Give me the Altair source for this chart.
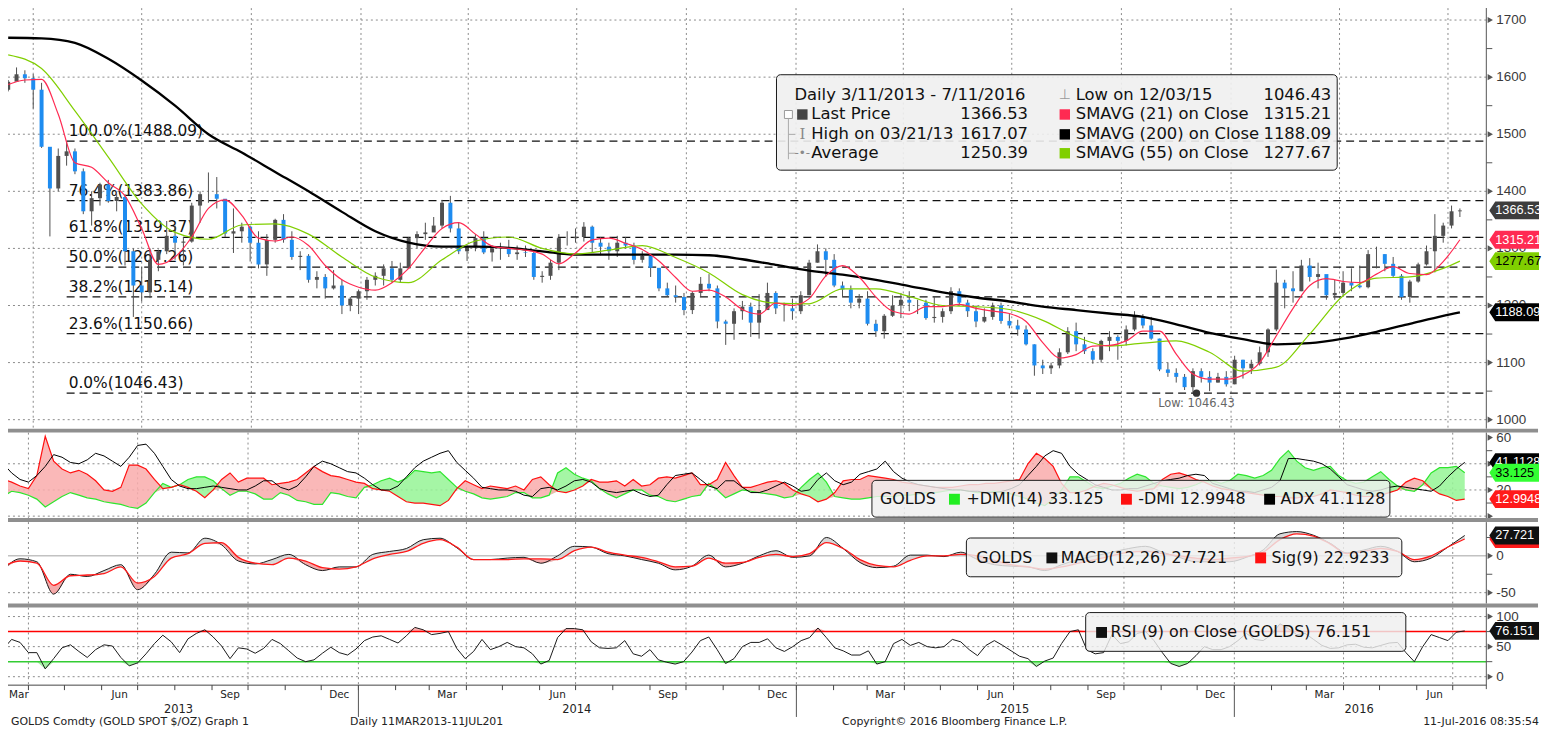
import altair as alt
import pandas as pd
import numpy as np

# ---------------- data ----------------
WEEK_START = "2013-03-11"      # weekly samples (Mondays)
N_WEEKS = 175

week_high = [1595,1617,1612,1605,1590,1425,1475,1488,1475,1440,
             1400,1415,1420,1395,1395,1300,1268,1300,1298,1348,
             1340,1320,1380,1400,1433,1425,1385,1370,1345,1340,
             1330,1325,1352,1360,1330,1295,1290,1260,1255,1262,
             1245,1215,1228,1250,1258,1272,1278,1275,1320,1330,
             1345,1355,1385,1392,1345,1305,1325,1330,1305,1310,
             1315,1305,1305,1295,1260,1280,1325,1330,1335,1346,
             1340,1320,1310,1322,1320,1310,1295,1290,1265,1240,
             1235,1222,1225,1250,1255,1235,1175,1195,1208,1205,
             1220,1240,1225,1205,1212,1225,1280,1307,1300,1290,
             1242,1235,1220,1225,1175,1185,1218,1222,1225,1210,
             1210,1215,1195,1232,1230,1210,1200,1195,1205,1205,
             1185,1175,1165,1132,1105,1100,1125,1162,1170,1145,
             1125,1140,1155,1148,1165,1190,1185,1180,1142,1100,
             1090,1080,1090,1090,1085,1082,1085,1112,1105,1105,
             1128,1160,1263,1245,1260,1280,1283,1275,1250,1245,
             1260,1265,1270,1297,1303,1290,1285,1255,1245,1275,
             1305,1360,1345,1375,1370]
week_low = [1575,1595,1590,1545,1476,1321,1400,1445,1430,1360,
            1340,1375,1380,1365,1270,1180,1207,1213,1260,1290,
            1280,1270,1310,1345,1380,1370,1320,1292,1310,1277,
            1265,1252,1310,1310,1280,1262,1240,1230,1212,1228,
            1185,1190,1185,1210,1235,1235,1240,1240,1270,1300,
            1315,1330,1335,1328,1290,1278,1295,1290,1277,1280,
            1285,1280,1285,1245,1240,1245,1262,1305,1310,1312,
            1292,1288,1280,1285,1300,1272,1275,1250,1225,1215,
            1205,1183,1185,1215,1225,1160,1131,1140,1175,1145,
            1142,1195,1185,1172,1175,1185,1218,1275,1250,1232,
            1215,1195,1195,1165,1145,1142,1180,1178,1190,1185,
            1175,1170,1170,1185,1200,1180,1162,1170,1175,1168,
            1160,1147,1130,1077,1080,1080,1090,1115,1120,1115,
            1098,1100,1120,1105,1130,1155,1160,1140,1085,1075,
            1065,1052,1046,1065,1050,1065,1058,1062,1072,1080,
            1095,1110,1155,1195,1205,1225,1242,1230,1210,1210,
            1215,1225,1230,1230,1265,1260,1250,1210,1205,1240,
            1270,1258,1310,1335,1355]
week_close = [1592,1605,1598,1578,1478,1405,1462,1470,1435,1365,
              1388,1412,1383,1390,1295,1235,1223,1280,1295,1322,
              1310,1312,1375,1395,1395,1387,1326,1330,1338,1310,
              1272,1315,1350,1315,1285,1287,1245,1250,1230,1235,
              1200,1212,1225,1245,1252,1265,1245,1265,1318,1325,
              1328,1340,1380,1335,1295,1302,1318,1293,1300,1300,
              1290,1293,1292,1250,1252,1275,1318,1318,1320,1338,
              1310,1303,1295,1310,1305,1280,1287,1266,1230,1218,
              1215,1192,1222,1238,1230,1172,1168,1190,1198,1170,
              1192,1222,1195,1195,1190,1218,1275,1295,1280,1235,
              1228,1205,1212,1168,1155,1182,1200,1210,1205,1205,
              1178,1180,1190,1225,1205,1190,1172,1180,1200,1173,
              1165,1158,1132,1095,1090,1095,1118,1155,1132,1120,
              1105,1138,1145,1138,1158,1180,1165,1142,1088,1082,
              1075,1057,1085,1075,1065,1075,1062,1105,1090,1098,
              1118,1158,1240,1230,1225,1270,1250,1255,1218,1222,
              1240,1235,1232,1290,1290,1273,1252,1215,1242,1272,
              1295,1322,1340,1365,1366.53]
first_open = 1578.0

# moving averages (SMA21 every 2nd week, SMA55 / SMA200 every 4th week + last)
sma21 = [1587,1595,1596,1535,1450,1442,1415,1392,1335,1272,
         1285,1320,1370,1385,1358,1318,1313,1320,1305,1270,
         1245,1232,1227,1240,1265,1302,1335,1345,1325,1304,
         1300,1297,1290,1273,1292,1315,1318,1309,1298,1278,
         1249,1225,1227,1215,1193,1185,1204,1200,1212,1252,
         1270,1250,1215,1190,1185,1198,1198,1202,1195,1190,
         1186,1172,1135,1108,1114,1129,1130,1138,1155,1155,
         1115,1080,1071,1071,1078,1100,1147,1195,1235,1247,
         1242,1240,1255,1268,1256,1254,1277,1315.21]
sma55 = [1639,1615,1541,1460,1378,1328,1316,1341,1343,1325,
         1285,1250,1240,1280,1313,1320,1300,1290,1297,1305,
         1284,1257,1219,1204,1203,1229,1229,1216,1200,1198,
         1193,1174,1145,1129,1134,1138,1118,1085,1092,1150,
         1217,1248,1250,1265,1277.67]
sma200 = [1669,1668,1660,1632,1594,1550,1500,1468,1434,1400,
          1364,1330,1310,1303,1303,1301,1295,1289,1289,1289,
          1289,1288,1281,1271,1261,1254,1245,1234,1223,1214,
          1207,1198,1192,1186,1180,1167,1152,1141,1132,1134,
          1142,1154,1168,1182,1188.09]

fib_pct = ["100.0%", "76.4%", "61.8%", "50.0%", "38.2%", "23.6%", "0.0%"]
fib_level = [1488.09, 1383.86, 1319.37, 1267.26, 1215.14, 1150.66, 1046.43]

low_date = "2015-12-03"
low_value = 1046.43
high_value = 1617.07
avg_value = 1250.39

plus_dmi = [15,19,18,16,13,7,11,15,18,16,
            14,13,11,10,9,7,6,10,18,25,
            22,24,28,30,30,27,21,16,19,19,
            17,13,13,18,16,12,11,9,9,18,
            17,15,14,22,24,27,29,26,29,35,
            34,33,34,28,22,19,17,14,13,14,
            15,18,18,14,14,16,33,37,32,29,
            27,21,17,14,17,20,20,16,15,12,
            11,13,15,16,25,20,14,17,20,19,
            18,17,16,14,15,22,28,33,26,15,
            14,13,13,14,15,15,15,16,16,17,
            18,18,19,20,20,19,18,18,19,18,
            17,15,13,10,8,13,20,30,30,26,
            22,21,23,25,29,32,30,25,23,22,
            21,22,24,27,27,25,27,32,31,29,
            31,35,44,50,42,37,35,37,38,31,
            27,25,26,30,34,28,23,20,19,24,
            33,37,37,38,33.125]
minus_dmi = [28,26,23,21,31,61,42,36,33,35,
             32,27,20,19,22,39,39,36,28,21,
             22,24,22,19,14,20,28,33,26,29,
             29,29,24,25,26,28,33,38,34,31,
             30,28,26,25,21,20,19,15,11,10,
             10,9,8,12,21,27,24,21,23,22,
             21,23,20,28,30,24,19,18,20,23,
             28,26,26,27,23,28,23,24,29,30,
             29,31,33,24,24,28,41,31,22,22,
             24,26,27,25,20,17,15,11,13,18,
             27,28,28,31,30,29,28,26,25,24,
             23,22,22,22,23,24,24,25,25,26,
             27,28,40,48,44,38,25,18,18,20,
             23,25,24,22,20,19,20,21,28,32,
             33,31,28,26,23,21,20,19,18,17,
             16,15,15,14,14,15,15,17,20,19,
             18,16,15,15,16,18,20,26,29,27,
             21,17,15,12,12.9948]
adx = [40,33,28,26,31,38,47,45,41,40,
       43,48,46,42,38,45,54,55,48,38,
       28,23,21,21,22,23,22,21,20,20,
       23,27,27,22,20,23,30,38,42,40,
       37,34,33,29,24,20,20,23,30,37,
       42,45,48,50,41,35,29,22,21,20,
       20,19,16,15,21,22,20,23,27,28,
       26,21,19,18,19,20,17,15,16,24,
       31,32,33,28,23,21,27,27,22,18,
       18,20,23,26,23,19,20,28,33,27,
       24,26,32,34,36,42,34,29,26,24,
       23,22,21,20,20,19,19,18,18,19,
       21,24,31,38,46,50,48,38,32,28,
       24,22,20,20,21,21,23,25,27,28,
       29,31,32,31,25,23,21,19,19,18,
       20,22,27,44,44,43,42,40,36,30,
       24,22,20,19,20,22,23,22,21,20,
       19,23,30,36,41.1128]
# MACD every 2nd week
macd = [-19,-4,-8,-52,-25,-28,-20,-12,-46,-25,
        5,4,24,15,-7,-11,-5,2,-12,-20,
        -15,-15,2,6,10,22,24,11,-5,-5,
        -3,-2,-10,0,13,12,3,0,-5,-10,
        -19,-14,1,-15,-10,0,7,-2,0,25,
        10,-9,-16,-14,1,1,-1,5,-5,-12,
        -14,-15,-20,-12,-5,0,5,10,13,5,
        -2,-8,-8,-8,-2,8,30,33,28,17,
        4,8,13,6,-8,-3,12,27.721]
macd_sig = [-14,-7,-10,-40,-27,-26,-24,-15,-37,-28,
            -3,3,17,18,-2,-10,-12,-3,-7,-16,
            -18,-15,-4,2,6,17,22,12,-5,-5,
            -5,-4,-4,-5,7,12,5,1,-2,-8,
            -15,-14,-3,-10,-9,-2,2,-1,3,18,
            10,-5,-13,-15,-6,0,0,2,0,-6,
            -12,-15,-18,-15,-10,-5,0,5,6,3,
            0,-3,-5,-3,-1,5,22,30,27,16,
            3,6,10,6,-5,0,12,22.9233]
rsi = [46,62,57,40,40,13,30,48,53,42,
       32,45,53,51,32,18,23,38,55,69,
       58,40,63,72,78,66,51,30,48,46,
       39,47,62,55,43,31,25,28,39,49,
       40,36,46,60,66,68,62,56,68,82,
       78,70,72,75,47,30,42,62,45,50,
       57,50,48,38,21,27,65,80,80,78,
       58,48,47,48,60,38,34,45,28,24,
       21,25,41,60,66,45,22,30,50,57,
       57,63,48,42,50,60,65,81,65,48,
       43,36,36,43,21,25,55,62,52,57,
       50,48,50,62,58,45,35,52,60,52,
       43,34,30,17,26,31,55,75,78,45,
       38,40,70,55,58,72,75,60,40,22,
       17,22,35,50,45,45,50,60,72,62,
       60,70,88,80,70,72,62,52,47,48,
       53,54,49,48,52,56,57,40,25,50,
       70,65,60,74,76.151]

price_ticks = [1000, 1100, 1200, 1300, 1400, 1500, 1600, 1700]
price_minor = [1050, 1150, 1250, 1350, 1450, 1550, 1650]
dmi_grid = [0, 20, 40]
dmi_labels = [20, 40, 60]
dmi_arrows = [0, 20, 40, 60]
dmi_minor = [10, 30, 50]
macd_grid = [-50]
macd_labels = [-50, 0]
macd_minor = [-25, 25]
rsi_grid = [0, 50, 100]
rsi_labels = [0, 50, 100]
rsi_minor = [25, 75]
rsi_upper, rsi_lower = 75, 25

month_labels = ["Mar", "Jun", "Sep", "Dec"] * 3 + ["Mar", "Jun"]
month_label_dates = ["2013-03-24", "2013-06-16", "2013-09-16", "2013-12-16",
                     "2014-03-16", "2014-06-16", "2014-09-16", "2014-12-16",
                     "2015-03-16", "2015-06-16", "2015-09-16", "2015-12-16",
                     "2016-03-16", "2016-06-16"]
year_labels = ["2013", "2014", "2015", "2016"]
year_label_dates = ["2013-08-04", "2014-07-02", "2015-07-02", "2016-04-14"]
year_starts = ["2014-01-01", "2015-01-01", "2016-01-01"]

# ---------------- styling ----------------
FONT = "DejaVu Sans"
AXFONT = "Liberation Sans"
W = 1493
HP, HD, HM, HR = 428, 86, 82, 78
BLUE = "#1e8cf0"
UPGRAY = "#505050"
RED21 = "#ff2a52"
GREEN55 = "#80cf00"
GRID = "#8a8a8a"
AXIS = "#555555"

xscale = alt.Scale(domain=[alt.DateTime(year=2013, month=3, date=10),
                           alt.DateTime(year=2016, month=7, date=29)])
ysP = alt.Scale(domain=[984.3, 1729.6], nice=False, zero=False)
ysD = alt.Scale(domain=[-1.52, 63.8], nice=False, zero=False)
ysM = alt.Scale(domain=[-64.9, 45.9], nice=False, zero=False)
ysR = alt.Scale(domain=[-14.05, 114.9], nice=False, zero=False)

# ---------------- frames ----------------
dates = pd.date_range(WEEK_START, periods=N_WEEKS, freq="7D")
opens = [first_open] + week_close[:-1]
price_df = pd.DataFrame({"date": dates, "open": opens, "high": week_high,
                         "low": week_low, "close": week_close})
price_df["dir"] = np.where(price_df["close"] < price_df["open"], "down", "up")

d21 = pd.DataFrame({"date": dates[::2], "v": sma21})
idx4 = list(range(0, 173, 4)) + [174]
d55 = pd.DataFrame({"date": dates[idx4], "v": sma55})
d200 = pd.DataFrame({"date": dates[idx4], "v": sma200})
fib_df = pd.DataFrame({"level": fib_level,
                       "label": [f"{p}({l:.2f})" for p, l in zip(fib_pct, fib_level)]})
dmi_df = pd.DataFrame({"date": dates, "plus": plus_dmi, "minus": minus_dmi, "adx": adx})
macd_df = pd.DataFrame({"date": dates[::2], "macd": macd, "sig": macd_sig})
rsi_df = pd.DataFrame({"date": dates, "rsi": rsi})
quarters = pd.DataFrame({"date": pd.date_range("2013-04-01", "2016-07-01", freq="QS")})
months = pd.DataFrame({"date": pd.date_range("2013-04-01", "2016-07-01", freq="MS")})
month_df = pd.DataFrame({"date": pd.to_datetime(month_label_dates), "label": month_labels})
year_df = pd.DataFrame({"date": pd.to_datetime(year_label_dates), "label": year_labels})
ystart_df = pd.DataFrame({"date": pd.to_datetime(year_starts)})
low_df = pd.DataFrame({"date": pd.to_datetime([low_date]), "v": [low_value]})
one = pd.DataFrame({"k": [0]})


# ---------------- helpers ----------------
def X(field="date"):
    return alt.X(f"{field}:T", scale=xscale, axis=None, title=None)


def Yq(field, scale):
    return alt.Y(f"{field}:Q", scale=scale, axis=None, title=None)


def txt(s, x, y, size=16, color="#111111", align="left", font=FONT):
    return alt.Chart(one).mark_text(text=s, align=align, baseline="middle", font=font,
                                    fontSize=size, color=color).encode(
        x=alt.value(x), y=alt.value(y))


def sq(x, y, color, size=110):
    return alt.Chart(one).mark_square(size=size, color=color, opacity=1).encode(
        x=alt.value(x), y=alt.value(y))


def box(x1, y1, x2, y2, op=0.82):
    return alt.Chart(one).mark_rect(fill="#efefef", fillOpacity=op, stroke="#1a1a1a",
                                    strokeWidth=1, cornerRadius=4).encode(
        x=alt.value(x1), x2=alt.value(x2), y=alt.value(y1), y2=alt.value(y2))


def seg(x1, x2, y1, y2, color, width=1):
    return alt.Chart(one).mark_rule(color=color, strokeWidth=width).encode(
        x=alt.value(x1), x2=alt.value(x2), y=alt.value(y1), y2=alt.value(y2))


def ygrid(values, scale):
    return alt.Chart(pd.DataFrame({"v": values})).mark_rule(
        color=GRID, strokeDash=[2, 3], strokeWidth=1).encode(y=Yq("v", scale))


def qgrid():
    return alt.Chart(quarters).mark_rule(color=GRID, strokeDash=[2, 3], strokeWidth=1).encode(
        x=X("date"))


def right_axis(labels, arrows_at, minor, scale, h):
    line = seg(W, W, 0, h, AXIS)
    a = alt.Chart(pd.DataFrame({"v": arrows_at})).mark_point(
        shape="triangle-right", filled=True, size=38, color=AXIS, opacity=1).encode(
        x=alt.value(W + 4), y=Yq("v", scale))
    m = alt.Chart(pd.DataFrame({"v": minor})).mark_rule(color=AXIS).encode(
        x=alt.value(W), x2=alt.value(W + 6), y=Yq("v", scale))
    lab = alt.Chart(pd.DataFrame({"v": labels, "t": [str(v) for v in labels]})).mark_text(
        align="left", baseline="middle", font=AXFONT, fontSize=13.5, color="#3a3a3a").encode(
        x=alt.value(W + 10), y=Yq("v", scale), text="t:N")
    return [line, a, m, lab]


TAG_PATH = "M -1 0 L -0.76 -0.36 L 1 -0.36 L 1 0.36 L -0.76 0.36 Z"


def tag(value, label, fill, color):
    shp = alt.Chart(one).mark_point(shape=TAG_PATH, filled=True, fill=fill, size=2500,
                                    opacity=1, strokeWidth=0).encode(
        x=alt.value(W + 28), y=alt.YDatum(value, axis=None))
    t = alt.Chart(one).mark_text(text=label, align="left", baseline="middle", font=AXFONT,
                                 fontSize=12.8, color=color).encode(
        x=alt.value(W + 9), y=alt.YDatum(value, axis=None))
    return shp + t


def separator():
    return seg(0, 1545, -2, -2, "#8f8f8f", 4)


# ---------------- price panel ----------------
pbase = alt.Chart(price_df)
wicks = pbase.mark_rule(color=UPGRAY, strokeWidth=1).encode(
    x=X(), y=Yq("low", ysP), y2="high:Q")
bodies = pbase.mark_bar(size=4).encode(
    x=X(), y=Yq("open", ysP), y2="close:Q",
    color=alt.Color("dir:N", scale=alt.Scale(domain=["down", "up"], range=[BLUE, UPGRAY]),
                    legend=None))
l200 = alt.Chart(d200).mark_line(color="#000000", strokeWidth=2.3, interpolate="monotone").encode(
    x=X(), y=Yq("v", ysP))
l55 = alt.Chart(d55).mark_line(color=GREEN55, strokeWidth=1.2, interpolate="monotone").encode(
    x=X(), y=Yq("v", ysP))
l21 = alt.Chart(d21).mark_line(color=RED21, strokeWidth=1.2, interpolate="monotone").encode(
    x=X(), y=Yq("v", ysP))
fib_lines = alt.Chart(fib_df).mark_rule(color="#111111", strokeDash=[8, 5], strokeWidth=1.3).encode(
    x=alt.value(65), x2=alt.value(W), y=Yq("level", ysP))
fib_text = alt.Chart(fib_df).mark_text(align="left", baseline="middle", dy=-10, font=FONT,
                                       fontSize=15.5, color="#111111").encode(
    x=alt.value(67), y=Yq("level", ysP), text="label:N")
low_dot = alt.Chart(low_df).mark_circle(size=55, color="#333333", opacity=1).encode(
    x=X(), y=Yq("v", ysP))
low_txt = alt.Chart(low_df).mark_text(text=f"Low: {low_value:.2f}", dy=11, font=FONT,
                                      fontSize=11.5, color="#666666").encode(
    x=X(), y=Yq("v", ysP))

LY = [92, 112, 132, 151]
legend_main = [
    box(779, 72, 1343, 168, op=0.9),
    alt.Chart(one).mark_rect(fill="white", stroke="#9a9a9a", strokeWidth=1).encode(
        x=alt.value(787), x2=alt.value(795), y=alt.value(108), y2=alt.value(116)),
    seg(791, 791, 116, 157, "#aaaaaa"),
    seg(791, 798, 132, 132, "#aaaaaa"),
    seg(791, 798, 151, 151, "#aaaaaa"),
    txt("Daily 3/11/2013 - 7/11/2016", 797, LY[0], 16.5),
    txt("\u22a5", 1069, LY[0], 14, "#9a9a9a", "center"),
    txt("Low on 12/03/15", 1080, LY[0], 16.5),
    txt(f"{low_value:.2f}", 1337, LY[0], 16.5, align="right"),
    sq(805, LY[1], "#444444"),
    txt("Last Price", 814, LY[1], 16.5),
    txt(f"{week_close[-1]:.2f}", 1032, LY[1], 16.5, align="right"),
    sq(1069, LY[1], RED21),
    txt("SMAVG (21) on Close", 1080, LY[1], 16.5),
    txt(f"{sma21[-1]:.2f}", 1337, LY[1], 16.5, align="right"),
    txt("I", 805, LY[2], 15, "#8a8a8a", "center", "DejaVu Serif"),
    txt("High on 03/21/13", 814, LY[2], 16.5),
    txt(f"{high_value:.2f}", 1032, LY[2], 16.5, align="right"),
    sq(1069, LY[2], "#000000"),
    txt("SMAVG (200) on Close", 1080, LY[2], 16.5),
    txt(f"{sma200[-1]:.2f}", 1337, LY[2], 16.5, align="right"),
    txt("-\u2022-", 805, LY[3], 12, "#8a8a8a", "center"),
    txt("Average", 814, LY[3], 16.5),
    txt(f"{avg_value:.2f}", 1032, LY[3], 16.5, align="right"),
    sq(1069, LY[3], GREEN55),
    txt("SMAVG (55) on Close", 1080, LY[3], 16.5),
    txt(f"{sma55[-1]:.2f}", 1337, LY[3], 16.5, align="right"),
]

price = alt.layer(
    qgrid(), ygrid(price_ticks, ysP), fib_lines, fib_text,
    wicks, bodies, l200, l55, l21, low_dot, low_txt, *legend_main,
    *right_axis(price_ticks, price_ticks, price_minor, ysP, HP),
    tag(sma200[-1], f"{sma200[-1]:.2f}", "#000000", "white"),
    tag(sma55[-1], f"{sma55[-1]:.2f}", GREEN55, "black"),
    tag(sma21[-1], f"{sma21[-1]:.2f}", RED21, "white"),
    tag(week_close[-1], f"{week_close[-1]:.2f}", "#3d3d3d", "white"),
).properties(width=W, height=HP)

# ---------------- DMI panel ----------------
dbase = alt.Chart(dmi_df).transform_calculate(lo="min(datum.plus, datum.minus)")
g_area = dbase.mark_area(color="#95f595", opacity=0.85).encode(x=X(), y=Yq("plus", ysD), y2="lo:Q")
r_area = dbase.mark_area(color="#f9abab", opacity=0.85).encode(x=X(), y=Yq("minus", ysD), y2="lo:Q")
g_line = alt.Chart(dmi_df).mark_line(color="#2ee62e", strokeWidth=1.2).encode(x=X(), y=Yq("plus", ysD))
r_line = alt.Chart(dmi_df).mark_line(color="#ff1010", strokeWidth=1.2).encode(x=X(), y=Yq("minus", ysD))
a_line = alt.Chart(dmi_df).mark_line(color="#000000", strokeWidth=1).encode(x=X(), y=Yq("adx", ysD))
DY = 67
dmi_legend = [
    box(875, 48, 1396, 85),
    txt("GOLDS", 883, DY, 16),
    sq(958, DY, "#22ee22", 120), txt(f"+DMI(14) {plus_dmi[-1]}", 970, DY, 16),
    sq(1131, DY, "#ff1010", 120), txt(f"-DMI {minus_dmi[-1]}", 1143, DY, 16),
    sq(1275, DY, "#000000", 120), txt(f"ADX {adx[-1]}", 1286, DY, 16),
]
dmi = alt.layer(
    separator(), qgrid(), ygrid(dmi_grid, ysD),
    g_area, r_area, g_line, r_line, a_line, *dmi_legend,
    *right_axis(dmi_labels, dmi_arrows, dmi_minor, ysD, HD),
    tag(adx[-1], str(adx[-1]), "#000000", "white"),
    tag(plus_dmi[-1], str(plus_dmi[-1]), "#33ff33", "black"),
    tag(minus_dmi[-1], str(minus_dmi[-1]), "#ff1a1a", "white"),
).properties(width=W, height=HD)

# ---------------- MACD panel ----------------
mbase = alt.Chart(macd_df).transform_calculate(lo="min(datum.macd, datum.sig)")
m_up = mbase.mark_area(color="#d4d4d4", opacity=0.9, interpolate="monotone").encode(
    x=X(), y=Yq("macd", ysM), y2="lo:Q")
m_dn = mbase.mark_area(color="#f4a0a0", opacity=0.9, interpolate="monotone").encode(
    x=X(), y=Yq("sig", ysM), y2="lo:Q")
zero = alt.Chart(pd.DataFrame({"v": [0]})).mark_rule(color="#c2c2c2", strokeWidth=1.5).encode(
    y=Yq("v", ysM))
m_line = alt.Chart(macd_df).mark_line(color="#1a1a1a", strokeWidth=1, interpolate="monotone").encode(
    x=X(), y=Yq("macd", ysM))
s_line = alt.Chart(macd_df).mark_line(color="#ff1a1a", strokeWidth=1.3, interpolate="monotone").encode(
    x=X(), y=Yq("sig", ysM))
MY = 36
macd_legend = [
    box(970, 16, 1408, 55),
    txt("GOLDS", 980, MY, 16),
    sq(1056, MY, "#111111", 120), txt(f"MACD(12,26) {macd[-1]}", 1065, MY, 16),
    sq(1266, MY, "#ff1010", 120), txt(f"Sig(9) {macd_sig[-1]}", 1277, MY, 16),
]
macd_panel = alt.layer(
    separator(), qgrid(), ygrid(macd_grid, ysM), zero,
    m_up, m_dn, m_line, s_line, *macd_legend,
    *right_axis(macd_labels, macd_labels, macd_minor, ysM, HM),
    tag(macd_sig[-1], str(macd_sig[-1]), "#ff1a1a", "white"),
    tag(macd[-1], str(macd[-1]), "#111111", "white"),
).properties(width=W, height=HM)

# ---------------- RSI panel ----------------
rbase = alt.Chart(rsi_df).transform_calculate(
    hi=f"max(datum.rsi, {rsi_upper})", up=f"{rsi_upper}",
    lo=f"min(datum.rsi, {rsi_lower})", dn=f"{rsi_lower}")
r_hi = rbase.mark_area(color="#f7a8a8", opacity=0.9).encode(x=X(), y=Yq("hi", ysR), y2="up:Q")
r_lo = rbase.mark_area(color="#9cee9c", opacity=0.9).encode(x=X(), y=Yq("lo", ysR), y2="dn:Q")
r_line = alt.Chart(rsi_df).mark_line(color="#1a1a1a", strokeWidth=1).encode(x=X(), y=Yq("rsi", ysR))
up_line = alt.Chart(pd.DataFrame({"v": [rsi_upper]})).mark_rule(color="#ff0000", strokeWidth=1.5).encode(
    y=Yq("v", ysR))
dn_line = alt.Chart(pd.DataFrame({"v": [rsi_lower]})).mark_rule(color="#33cc33", strokeWidth=1.5).encode(
    y=Yq("v", ysR))
RY = 25
rsi_legend = [
    box(1090, 5, 1412, 44),
    sq(1106, RY, "#111111", 120),
    txt(f"RSI (9) on Close (GOLDS) {rsi[-1]}", 1115, RY, 16),
]
x_line = seg(0, W, HR, HR, "#444444")
m_ticks = alt.Chart(months).mark_rule(color="#444444").encode(
    x=X(), y=alt.value(HR), y2=alt.value(HR + 5))
m_text = alt.Chart(month_df).mark_text(font=FONT, fontSize=10.5, color="#222222", baseline="middle").encode(
    x=X(), y=alt.value(HR + 10), text="label:N")
y_text = alt.Chart(year_df).mark_text(font=FONT, fontSize=11.5, color="#222222", baseline="middle").encode(
    x=X(), y=alt.value(HR + 25), text="label:N")
y_sep = alt.Chart(ystart_df).mark_rule(color="#555555").encode(
    x=X(), y=alt.value(HR), y2=alt.value(HR + 32))
FY = HR + 37
footer = [
    txt("GOLDS Comdty (GOLD SPOT $/OZ) Graph 1", 9, FY, 11, "#222222"),
    txt("Daily 11MAR2013-11JUL201", 350, FY, 11, "#222222"),
    txt("Copyright\u00a9 2016 Bloomberg Finance L.P.", 845, FY, 11, "#222222"),
    txt("11-Jul-2016 08:35:54", 1546, FY, 11, "#222222", "right"),
]
rsi_panel = alt.layer(
    separator(), qgrid(), ygrid(rsi_grid, ysR),
    r_hi, r_lo, up_line, dn_line, r_line, *rsi_legend,
    *right_axis(rsi_labels, rsi_labels, rsi_minor, ysR, HR + 4),
    tag(rsi[-1], str(rsi[-1]), "#111111", "white"),
    x_line, m_ticks, m_text, y_text, y_sep, *footer,
).properties(width=W, height=HR)

chart = alt.vconcat(price, dmi, macd_panel, rsi_panel, spacing=4, bounds="flush").properties(
    padding={"left": -8, "top": -8, "right": 0, "bottom": 0},
    background="white",
).configure_view(stroke=None)

chart.save("out.html", embed_options={"renderer": "svg", "actions": False})
